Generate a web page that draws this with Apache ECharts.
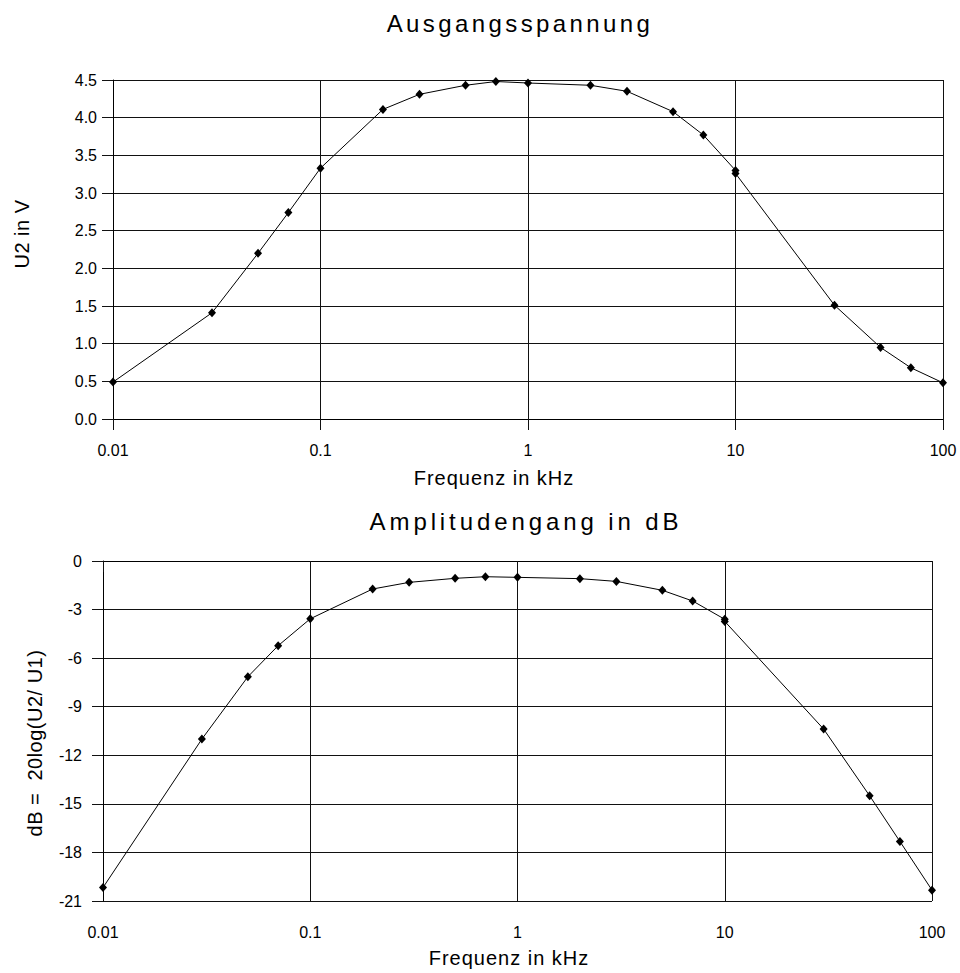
<!DOCTYPE html>
<html>
<head>
<meta charset="utf-8">
<script src="https://cdn.jsdelivr.net/npm/echarts@6/dist/echarts.min.js"></script>
<style>
html,body{margin:0;padding:0;background:#fff;}
#main{width:960px;height:973px;}
#main text[style*="TitleSpA"]{letter-spacing:3.4px;}
#main text[style*="TitleSpB"]{letter-spacing:3.9px;}
#main text[style*="AxisSp"]{letter-spacing:1px;}
#main text[style*="VertSp"]{letter-spacing:0.5px;}
</style>
</head>
<body>
<div id="main"></div>
<script>
// ---- data ----
const freqKHz = [0.01, 0.03, 0.05, 0.07, 0.1, 0.2, 0.3, 0.5, 0.7, 1, 2, 3, 5, 7, 10, 10, 30, 50, 70, 100];
const u2Volts = [0.49, 1.41, 2.20, 2.74, 3.33, 4.11, 4.31, 4.43, 4.48, 4.46, 4.43, 4.35, 4.08, 3.77, 3.30, 3.26, 1.51, 0.95, 0.68, 0.48];
const gainDB  = [-20.17, -11.0, -7.15, -5.23, -3.57, -1.73, -1.32, -1.07, -0.97, -1.01, -1.09, -1.26, -1.81, -2.47, -3.60, -3.73, -10.38, -14.5, -17.32, -20.33];
const xTickLabels = ['0.01', '0.1', '1', '10', '100'];
const titleTop = 'Ausgangsspannung';
const titleBottom = 'Amplitudengang in dB';
const xName = 'Frequenz in kHz';
const yNameTop = 'U2 in V';
const yNameBottom = 'dB =  20log(U2/ U1)';

const FONT = '"Liberation Sans", Arial, sans-serif';
const pairs = (xs, ys) => xs.map((x, i) => [x, ys[i]]);
const fmtLog = v => {
  const s = String(+(+v).toPrecision(6));
  const i = xTickLabels.indexOf(s);
  return i >= 0 ? xTickLabels[i] : s;
};

const lineCol = '#111';
function xAxisCfg(gridIndex, margin) {
  return {
    type: 'log', logBase: 10, gridIndex, min: 0.01, max: 100,
    axisLine: { show: true, lineStyle: { color: '#000', width: 1 } },
    axisTick: { show: true, length: 11, inside: false, lineStyle: { color: lineCol } },
    axisLabel: { margin, fontSize: 16, fontFamily: FONT, color: '#000', formatter: fmtLog },
    splitLine: { show: true, lineStyle: { color: lineCol, width: 1 } },
    minorTick: { show: false }, minorSplitLine: { show: false }
  };
}
function yAxisCfg(gridIndex, min, max, interval, fmt, margin) {
  return {
    type: 'value', gridIndex, min, max, interval,
    axisLine: { show: true, onZero: false, lineStyle: { color: '#000', width: 1 } },
    axisTick: { show: true, length: 11, inside: false, lineStyle: { color: lineCol } },
    axisLabel: { margin, fontSize: 16, fontFamily: FONT, color: '#000', formatter: fmt },
    splitLine: { show: true, lineStyle: { color: lineCol, width: 1 } }
  };
}
const seriesStyle = {
  type: 'line', symbol: 'diamond', symbolSize: [8, 9], showSymbol: true,
  lineStyle: { color: '#000', width: 1 }, itemStyle: { color: '#000' },
  animation: false, silent: true
};

const chart = echarts.init(document.getElementById('main'), null, { renderer: 'svg' });
chart.setOption({
  backgroundColor: '#fff',
  animation: false,
  grid: [
    { left: 113, top: 80, width: 830, height: 339 },
    { left: 103, top: 561, width: 829, height: 340 }
  ],
  xAxis: [xAxisCfg(0, 23), xAxisCfg(1, 23)],
  yAxis: [
    yAxisCfg(0, 0, 4.5, 0.5, v => v.toFixed(1), 16),
    yAxisCfg(1, -21, 0, 3, v => String(v), 21)
  ],
  series: [
    Object.assign({}, seriesStyle, { xAxisIndex: 0, yAxisIndex: 0, data: pairs(freqKHz, u2Volts) }),
    Object.assign({}, seriesStyle, { xAxisIndex: 1, yAxisIndex: 1, data: pairs(freqKHz, gainDB) })
  ],
  graphic: [
    { type: 'text', x: 520, y: 23, style: { text: titleTop, fontSize: 24, fontFamily: FONT + ', TitleSpA', fill: '#000', align: 'center', verticalAlign: 'middle' } },
    { type: 'text', x: 526, y: 521, style: { text: titleBottom, fontSize: 24, fontFamily: FONT + ', TitleSpB', fill: '#000', align: 'center', verticalAlign: 'middle' } },
    { type: 'text', x: 494, y: 478, style: { text: xName, fontSize: 20, fontFamily: FONT + ', AxisSp', fill: '#000', align: 'center', verticalAlign: 'middle' } },
    { type: 'text', x: 509, y: 958, style: { text: xName, fontSize: 20, fontFamily: FONT + ', AxisSp', fill: '#000', align: 'center', verticalAlign: 'middle' } },
    { type: 'text', x: 22, y: 234, rotation: Math.PI / 2, style: { text: yNameTop, fontSize: 20, fontFamily: FONT + ', VertSp', fill: '#000', align: 'center', verticalAlign: 'middle' } },
    { type: 'text', x: 35, y: 743, rotation: Math.PI / 2, style: { text: yNameBottom, fontSize: 20, fontFamily: FONT + ', VertSp', fill: '#000', align: 'center', verticalAlign: 'middle' } }
  ]
});
</script>
</body>
</html>
